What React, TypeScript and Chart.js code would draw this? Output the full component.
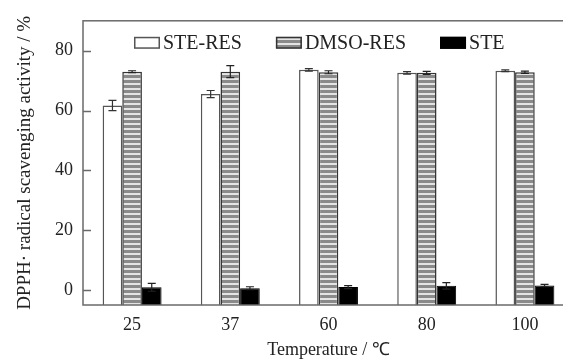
import React, { useEffect, useRef } from 'react';
import { Chart, registerables } from 'chart.js';

Chart.register(...registerables);

const categories = ['25', '37', '60', '80', '100'];
const steResValues = [61.7, 65.5, 73.6, 72.6, 73.3];
const steResErrors = [1.7, 1.2, 0.4, 0.4, 0.3];
const dmsoResValues = [73.0, 73.0, 72.8, 72.6, 72.8];
const dmsoResErrors = [0.3, 2.0, 0.5, 0.5, 0.4];
const steValues = [0.9, 0.6, 1.0, 1.4, 1.5];
const steErrors = [1.3, 0.5, 0.5, 1.1, 0.4];
const yTicks = [0, 20, 40, 60, 80];
const Y_MIN = -5;
const Y_MAX = 90;

const FAMILY = '"Liberation Serif", "Times New Roman", serif';
const TEXT = '#222222';
const AXIS = '#6a6a6a';

const framePlugin = {
  id: 'frameAndTicks',
  afterDraw(chart: any) {
    const { ctx, chartArea } = chart;
    const y = chart.scales.y;
    ctx.save();
    ctx.strokeStyle = AXIS;
    ctx.lineWidth = 1.5;
    ctx.strokeRect(chartArea.left, chartArea.top, chartArea.right - chartArea.left, chartArea.bottom - chartArea.top);
    ctx.beginPath();
    y.ticks.forEach((t: any) => {
      const py = Math.round(y.getPixelForValue(t.value)) + 0.5;
      ctx.moveTo(chartArea.left, py);
      ctx.lineTo(chartArea.left + 8, py);
    });
    ctx.stroke();
    ctx.restore();
  },
};

const errorPlugin = {
  id: 'errorBars',
  afterDatasetsDraw(chart: any) {
    const { ctx } = chart;
    const y = chart.scales.y;
    ctx.save();
    chart.data.datasets.forEach((ds: any, di: number) => {
      const meta = chart.getDatasetMeta(di);
      ctx.strokeStyle = ds.errorColor;
      ctx.lineWidth = 1.2;
      meta.data.forEach((bar: any, i: number) => {
        const v = ds.data[i];
        const e = ds.errors[i];
        const x = bar.x;
        const yTop = y.getPixelForValue(v + e);
        const yBot = y.getPixelForValue(v - e);
        ctx.beginPath();
        ctx.moveTo(x, yTop);
        ctx.lineTo(x, yBot);
        ctx.moveTo(x - 4, yTop);
        ctx.lineTo(x + 4, yTop);
        ctx.moveTo(x - 4, yBot);
        ctx.lineTo(x + 4, yBot);
        ctx.stroke();
      });
    });
    ctx.restore();
  },
};

const legendPlugin = {
  id: 'insideLegend',
  afterDraw(chart: any) {
    const { ctx, chartArea } = chart;
    ctx.save();
    ctx.font = `20px ${FAMILY}`;
    ctx.textBaseline = 'middle';
    let x = chartArea.left + 51;
    const yc = chartArea.top + 22;
    const bw = 26;
    const bh = 12;
    chart.data.datasets.forEach((ds: any) => {
      ctx.fillStyle = ds.backgroundColor;
      ctx.fillRect(x, yc - bh / 2, bw, bh);
      ctx.strokeStyle = ds.borderColor;
      ctx.lineWidth = 1.5;
      ctx.strokeRect(x + 0.75, yc - bh / 2 + 0.75, bw - 1.5, bh - 1.5);
      x += bw + 3;
      ctx.fillStyle = TEXT;
      ctx.fillText(ds.label, x, yc + 1);
      x += ctx.measureText(ds.label).width + 34;
    });
    ctx.restore();
  },
};

export default function App() {
  const ref = useRef<HTMLCanvasElement>(null);

  useEffect(() => {
    const canvas = ref.current!;
    const ctx = canvas.getContext('2d')!;
    const tile = document.createElement('canvas');
    tile.width = 4;
    tile.height = 5;
    const tctx = tile.getContext('2d')!;
    tctx.fillStyle = '#8a8a8a';
    tctx.fillRect(0, 0, 4, 5);
    tctx.fillStyle = '#e4e4e4';
    tctx.fillRect(0, 3, 4, 2);
    const stripes = ctx.createPattern(tile, 'repeat');

    const chart = new Chart(canvas, {
      type: 'bar',
      data: {
        labels: categories,
        datasets: [
          {
            label: 'STE-RES',
            data: steResValues,
            backgroundColor: '#ffffff',
            borderColor: '#555555',
            borderWidth: 1.5,
            base: Y_MIN,
            errors: steResErrors,
            errorColor: '#333333',
          } as any,
          {
            label: 'DMSO-RES',
            data: dmsoResValues,
            backgroundColor: stripes,
            borderColor: '#333333',
            borderWidth: 1.5,
            base: Y_MIN,
            errors: dmsoResErrors,
            errorColor: '#222222',
          } as any,
          {
            label: 'STE',
            data: steValues,
            backgroundColor: '#000000',
            borderColor: '#000000',
            borderWidth: 1,
            base: Y_MIN,
            errors: steErrors,
            errorColor: '#222222',
          } as any,
        ],
      },
      options: {
        responsive: false,
        animation: false,
        devicePixelRatio: 1,
        layout: { padding: { top: 14, right: 6, left: 0, bottom: 0 } },
        datasets: { bar: { categoryPercentage: 0.6, barPercentage: 1.0 } },
        plugins: { legend: { display: false }, tooltip: { enabled: false } },
        scales: {
          x: {
            type: 'category',
            offset: true,
            afterFit: (s: any) => {
              s.height = 56;
            },
            grid: { display: false, drawTicks: false },
            border: { display: false },
            ticks: { padding: 9, color: TEXT, font: { family: FAMILY, size: 18 }, maxRotation: 0 },
            title: {
              display: true,
              text: 'Temperature / ℃',
              color: TEXT,
              font: { family: FAMILY, size: 18 },
              padding: { top: 0, bottom: 0 },
            },
          },
          y: {
            min: Y_MIN,
            max: Y_MAX,
            afterFit: (s: any) => {
              s.width = 83;
            },
            afterBuildTicks: (s: any) => {
              s.ticks = yTicks.map((v) => ({ value: v }));
            },
            grid: { display: false, drawTicks: false },
            border: { display: false },
            ticks: { padding: 10, color: TEXT, font: { family: FAMILY, size: 18 } },
            title: {
              display: true,
              text: 'DPPH· radical scavenging activity / %',
              color: TEXT,
              font: { family: FAMILY, size: 19 },
              padding: { top: 14, bottom: 0 },
            },
          },
        },
      } as any,
      plugins: [errorPlugin, framePlugin, legendPlugin],
    });
    return () => chart.destroy();
  }, []);

  return (
    <div
      style={{
        position: 'fixed',
        left: 0,
        top: 0,
        width: 563,
        height: 361,
        overflow: 'hidden',
        background: '#ffffff',
      }}
    >
      <canvas ref={ref} width={580} height={361} style={{ display: 'block' }} />
    </div>
  );
}
